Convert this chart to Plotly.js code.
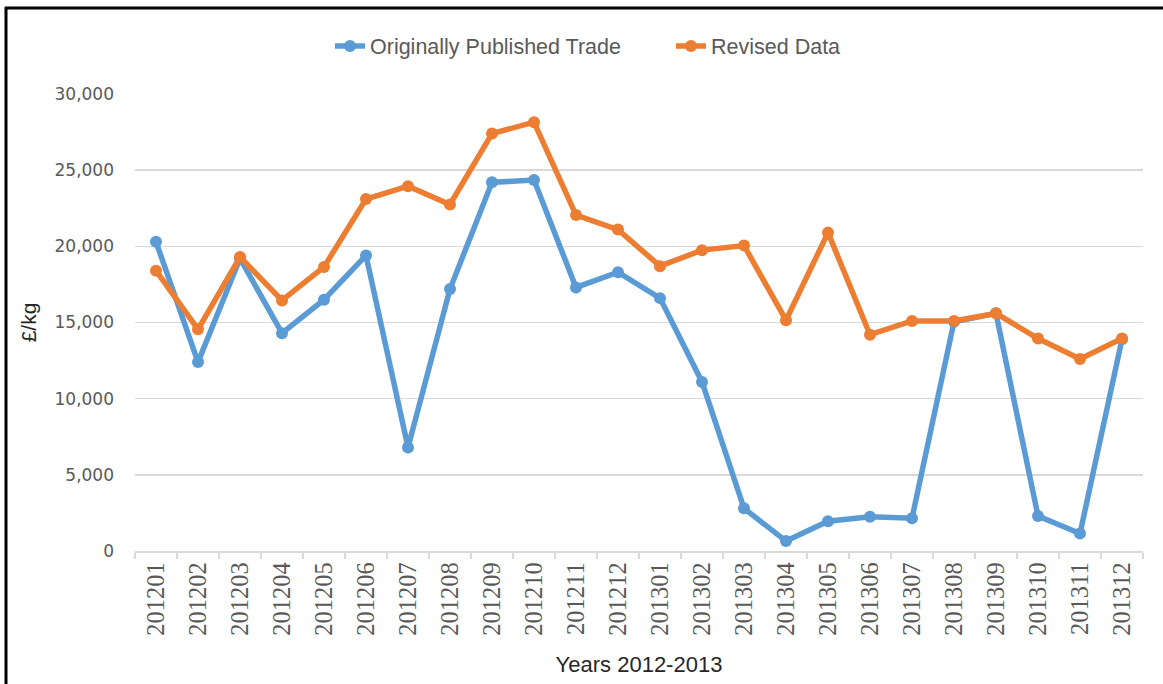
<!DOCTYPE html>
<html>
<head>
<meta charset="utf-8">
<script src="https://cdn.plot.ly/plotly-3.0.1.min.js"></script>
<style>html,body{margin:0;padding:0;background:#fff;}#chart{width:1163px;height:684px;}</style>
</head>
<body>
<div id="chart"></div>
<script>
const months = ["201201","201202","201203","201204","201205","201206","201207","201208","201209","201210","201211","201212",
                "201301","201302","201303","201304","201305","201306","201307","201308","201309","201310","201311","201312"];
const originallyPublished = [20300,12400,19200,14300,16500,19400,6800,17200,24200,24350,17300,18300,
                             16600,11100,2800,650,1950,2250,2150,15050,15600,2300,1150,13900];
const revisedData = [18400,14550,19300,16450,18650,23100,23950,22750,27400,28150,22050,21100,
                     18700,19750,20050,15150,20900,14200,15100,15100,15600,13950,12600,13950];

const W = 1163, H = 684, L = 135, R = 20, T = 94, B = 133;
const pw = W - L - R, ph = H - T - B;
const px = v => (v - L) / pw;
const py = v => (H - B - v) / ph;

const traces = [
  {x: months, y: originallyPublished, name: "Originally Published Trade", type: "scatter", mode: "lines+markers",
   line: {color: "#5b9bd5", width: 5.5}, marker: {color: "#5b9bd5", size: 12}},
  {x: months, y: revisedData, name: "Revised Data", type: "scatter", mode: "lines+markers",
   line: {color: "#ed7d31", width: 5.5}, marker: {color: "#ed7d31", size: 12}}
];

const layout = {
  width: W, height: H,
  margin: {l: L, r: R, t: T, b: B},
  paper_bgcolor: "#fff", plot_bgcolor: "#fff",
  showlegend: true,
  legend: {orientation: "h", x: px(330), xanchor: "left", y: py(46), yanchor: "middle",
           font: {family: "Liberation Sans, Arial, sans-serif", size: 21.5, color: "#595959"},
           entrywidth: 296, entrywidthmode: "pixels"},
  xaxis: {
    type: "category", range: [-0.5, 23.5], fixedrange: true,
    showgrid: false, showline: true, linecolor: "#d9d9d9", linewidth: 1.5,
    ticks: "outside", tickson: "boundaries", ticklen: 6, tickcolor: "#d9d9d9", tickwidth: 1.5,
    tickangle: -90, tickfont: {family: "Liberation Serif, serif", size: 24.5, color: "#595959"},
    title: {text: "Years 2012-2013", standoff: 22, font: {family: "Liberation Sans, Arial, sans-serif", size: 22, color: "#262626"}}
  },
  yaxis: {
    range: [0, 30000], fixedrange: true, dtick: 5000, tickformat: ",d",
    showgrid: true, gridcolor: "#d9d9d9", gridwidth: 1.5, zeroline: false, showline: false,
    ticks: "", ticklabelstandoff: 20,
    tickfont: {family: "DejaVu Sans, sans-serif", size: 17, color: "#595959"},
    title: {text: "£/kg", standoff: 12, font: {family: "Liberation Sans, Arial, sans-serif", size: 21, color: "#262626"}}
  },
  shapes: [
    {type: "line", xref: "paper", yref: "paper", x0: px(6), x1: px(6), y0: py(7), y1: py(700), line: {color: "#000", width: 3}},
    {type: "line", xref: "paper", yref: "paper", x0: px(5), x1: px(1170), y0: py(8), y1: py(8), line: {color: "#000", width: 3}}
  ]
};

Plotly.newPlot("chart", traces, layout, {displayModeBar: false, staticPlot: true});
</script>
</body>
</html>
